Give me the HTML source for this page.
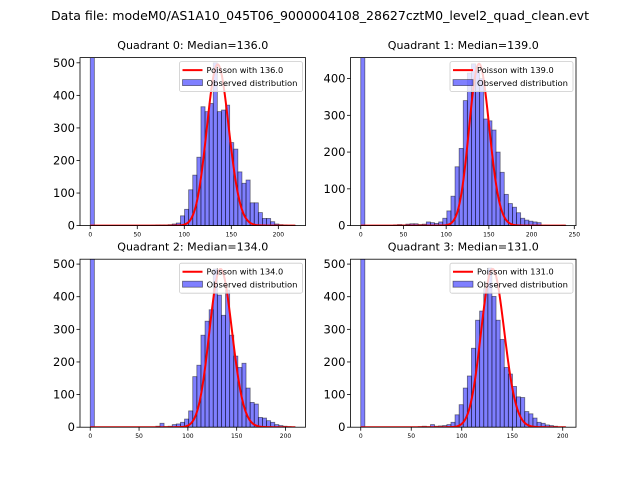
<!DOCTYPE html>
<html><head><meta charset="utf-8"><style>
html,body{margin:0;padding:0;background:#fff;}
svg{display:block;font-family:"DejaVu Sans","Liberation Sans",sans-serif;}
</style></head><body>
<svg id="fig" width="640" height="480" viewBox="0 0 640 480">
<text x="320" y="20" text-anchor="middle" font-size="12.4" textLength="538" lengthAdjust="spacingAndGlyphs">Data file: modeM0/AS1A10_045T06_9000004108_28627cztM0_level2_quad_clean.evt</text>
</svg>
<script>
// ---- data ----
const quadNames = ["Quadrant 0", "Quadrant 1", "Quadrant 2", "Quadrant 3"];
const medians = [136.0, 139.0, 134.0, 131.0];
const binMax = [218, 240, 210, 203];
const yMax = [516, 457, 515, 515];
const poissonPeak = [495, 440, 485, 485];
const xTicks0 = [0, 50, 100, 150, 200];
const xTicks1 = [0, 50, 100, 150, 200, 250];
const xTicks2 = [0, 50, 100, 150, 200];
const xTicks3 = [0, 50, 100, 150, 200];
const yTicks0 = [0, 100, 200, 300, 400, 500];
const yTicks1 = [0, 100, 200, 300, 400];
const yTicks2 = [0, 100, 200, 300, 400, 500];
const yTicks3 = [0, 100, 200, 300, 400, 500];
const counts0 = [3000,0,0,0,0,0,0,0,0,0,0,0,0,0,0,1,2,2,2,3,5,8,30,50,110,155,210,365,350,375,500,350,355,370,255,235,165,130,140,70,70,40,22,22,12,5,3,2,1,1];
const counts1 = [3000,0,0,0,0,0,0,0,2,3,2,4,5,5,3,4,10,8,6,10,20,40,80,160,210,340,415,440,420,400,290,285,260,200,145,85,60,50,35,20,15,12,10,8,1,1,0,0,0,1];
const counts2 = [3000,0,0,0,0,0,0,0,0,0,0,0,0,0,0,0,3,12,2,3,8,10,15,25,50,155,190,282,325,360,485,405,343,420,282,218,183,196,120,76,71,30,28,20,15,8,5,3,2,1];
const counts3 = [3000,0,0,0,0,0,0,0,0,0,0,0,0,0,2,3,2,8,3,4,5,8,15,38,69,120,157,242,328,356,425,488,401,328,269,183,163,125,93,91,48,41,28,15,12,7,5,3,1,1];

const allCounts = [counts0, counts1, counts2, counts3];
const allXTicks = [xTicks0, xTicks1, xTicks2, xTicks3];
const allYTicks = [yTicks0, yTicks1, yTicks2, yTicks3];

const NS = "http://www.w3.org/2000/svg";
const svg = document.getElementById("fig");
function mk(tag, attrs, parent){
  const e = document.createElementNS(NS, tag);
  for (const k in attrs) e.setAttribute(k, attrs[k]);
  (parent||svg).appendChild(e);
  return e;
}
function lgamma(z){
  const c=[76.18009172947146,-86.50532032941677,24.01409824083091,-1.231739572450155,0.1208650973866179e-2,-0.5395239505e-5];
  let x=z, y=z, tmp=x+5.5; tmp-=(x+0.5)*Math.log(tmp);
  let ser=1.000000000190015;
  for(let j=0;j<6;j++){ y+=1; ser+=c[j]/y; }
  return -tmp+Math.log(2.5066282746310005*ser/x);
}
const boxes = [[80,57.6],[350.5,57.6],[80,259.2],[350.5,259.2]];
const W = 225.5, H = 168;

for (let q=0;q<4;q++){
  const [L,T] = boxes[q];
  const counts = allCounts[q];
  const nb = counts.length;
  const bw = binMax[q]/nb;
  const pad = binMax[q]*0.05;
  const xmin = -pad, xmax = binMax[q]+pad;
  const sx = v => L + (v-xmin)/(xmax-xmin)*W;
  const sy = v => T + H - v/yMax[q]*H;
  const g = mk("g", {});
  
  
  const cid = "clip"+q;
  const cp = mk("clipPath", {id:cid}, g);
  mk("rect", {x:L, y:T, width:W, height:H}, cp);
  const bars = mk("g", {"clip-path":"url(#"+cid+")"}, g);
  for (let i=0;i<nb;i++){
    if (counts[i] <= 0) continue;
    const x0 = sx(i*bw), x1 = sx((i+1)*bw);
    const r = mk("rect", {x:x0, y:sy(counts[i]), width:x1-x0, height:sy(0)-sy(counts[i]),
      fill:"rgba(0,0,255,0.5)", stroke:"rgba(0,0,0,0.5)", "stroke-width":0.8}, bars);
    
    
  }
  const lam = medians[q];
  const peakLog = lam*Math.log(lam) - lam - lgamma(Math.floor(lam)+1);
  let d = "";
  for (let k=0;k<=binMax[q];k++){
    const lp = k*Math.log(lam) - lam - lgamma(k+1);
    const v = poissonPeak[q]*Math.exp(lp - peakLog);
    d += (k?"L":"M") + sx(k).toFixed(2) + "," + sy(v).toFixed(2);
  }
  const pl = mk("path", {d:d, fill:"none", stroke:"#ff0000", "stroke-width":2, "clip-path":"url(#"+cid+")"}, g);
  
  
  mk("rect", {x:L, y:T, width:W, height:H, fill:"none", stroke:"#000", "stroke-width":0.8}, g);
  allXTicks[q].forEach(t=>{
    const x = sx(t);
    mk("line", {x1:x, y1:T+H, x2:x, y2:T+H+3.5, stroke:"#000", "stroke-width":0.8}, g);
    const tx = mk("text", {x:x, y:T+H+11, "text-anchor":"middle", "font-size":6}, g);
    tx.textContent = t;
    
    
  });
  allYTicks[q].forEach(t=>{
    const y = sy(t);
    mk("line", {x1:L-3.5, y1:y, x2:L, y2:y, stroke:"#000", "stroke-width":0.8}, g);
    const ty = mk("text", {x:L-5, y:y+4, "text-anchor":"end", "font-size":11.5}, g);
    ty.textContent = t;
    
    
  });
  const tt = mk("text", {x:L+W/2, y:T-8.5, "text-anchor":"middle", "font-size":10.2, textLength:151, lengthAdjust:"spacingAndGlyphs"}, g);
  tt.textContent = quadNames[q] + ": Median=" + medians[q].toFixed(1);
  
  
  const lg = mk("g", {}, g);
  
  
  const lx = L+W-126, ly = T+4;
  mk("rect", {x:lx, y:ly, width:123, height:30, rx:2, fill:"rgba(255,255,255,0.8)", stroke:"#ccc", "stroke-width":0.8}, lg);
  mk("line", {x1:lx+3, y1:ly+8.5, x2:lx+23, y2:ly+8.5, stroke:"#ff0000", "stroke-width":2}, lg);
  const t1 = mk("text", {x:lx+27, y:ly+11.5, "font-size":8.2}, lg);
  t1.textContent = "Poisson with " + medians[q].toFixed(1);
  
  
  mk("rect", {x:lx+3, y:ly+18, width:20, height:6, fill:"rgba(0,0,255,0.5)", stroke:"rgba(0,0,0,0.5)", "stroke-width":0.8}, lg);
  const t2 = mk("text", {x:lx+27, y:ly+24.5, "font-size":8.2, textLength:91, lengthAdjust:"spacingAndGlyphs"}, lg);
  t2.textContent = "Observed distribution";
  
  
}
</script>
</body></html>
